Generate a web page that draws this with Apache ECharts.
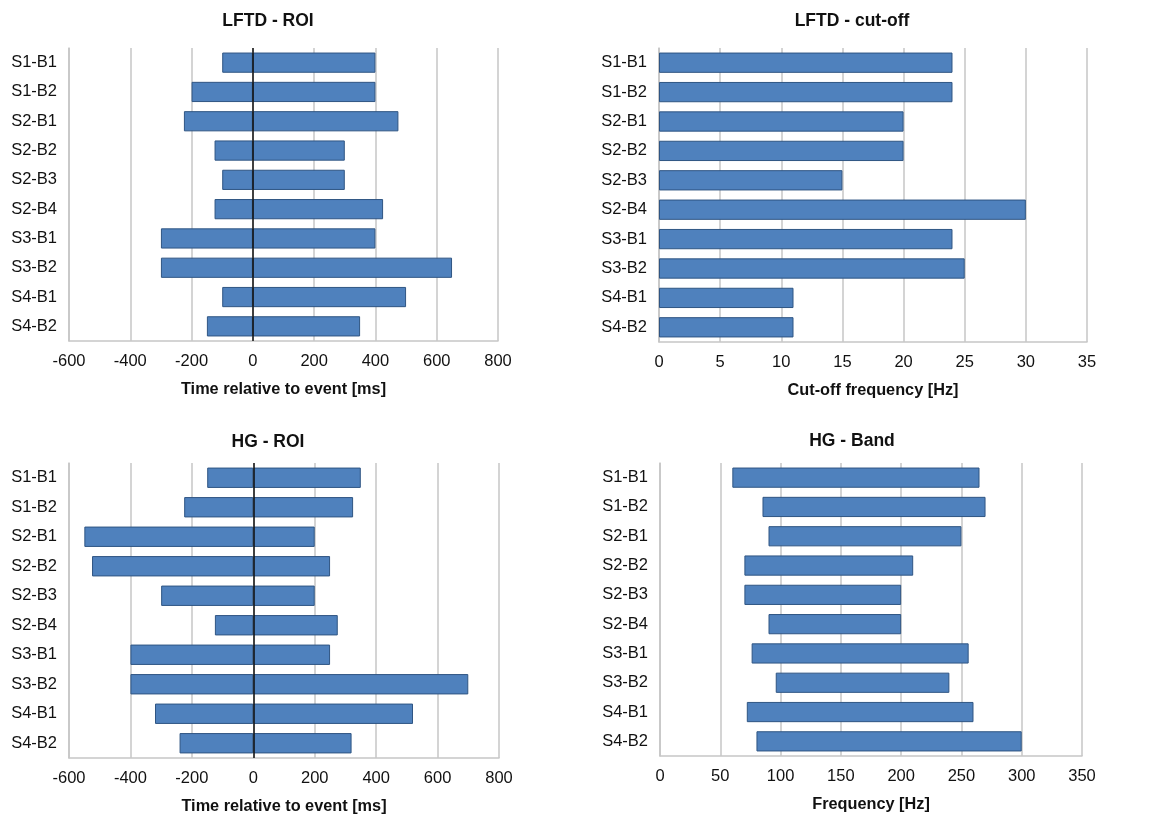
<!DOCTYPE html>
<html>
<head>
<meta charset="utf-8">
<script src="https://cdn.jsdelivr.net/npm/echarts@6/dist/echarts.min.js"></script>
<style>
  html, body { margin: 0; padding: 0; background: #fff; }
  #chart { width: 1164px; height: 820px; }
</style>
</head>
<body>
<div id="chart"></div>
<script>
// categories shared by all four panels
const sessions = ["S1-B1", "S1-B2", "S2-B1", "S2-B2", "S2-B3", "S2-B4", "S3-B1", "S3-B2", "S4-B1", "S4-B2"];

// LFTD - ROI (ms)
const lftdRoiStart = [-100, -200, -225, -125, -100, -125, -300, -300, -100, -150];
const lftdRoiEnd = [400, 400, 475, 300, 300, 425, 400, 650, 500, 350];

// LFTD - cut-off (Hz)
const lftdCutoff = [24, 24, 20, 20, 15, 30, 24, 25, 11, 11];

// HG - ROI (ms)
const hgRoiStart = [-150, -225, -550, -525, -300, -125, -400, -400, -320, -240];
const hgRoiEnd = [350, 325, 200, 250, 200, 275, 250, 700, 520, 320];

// HG - Band (Hz)
const hgBandLow = [60, 85, 90, 70, 70, 90, 76, 96, 72, 80];
const hgBandHigh = [265, 270, 250, 210, 200, 200, 256, 240, 260, 300];

const FONT = "Liberation Sans, Arial, sans-serif";
const barColor = "#4f81bd";
const barBorder = "#2f5583";
const gridGrey = "#c6c6c6";

const chart = echarts.init(document.getElementById("chart"));

const grids = [
  { left: 69, top: 48, width: 429, height: 293 },
  { left: 659, top: 48, width: 428, height: 294 },
  { left: 69, top: 463, width: 430, height: 295 },
  { left: 660, top: 463, width: 422, height: 293 },
];

const titles = [
  { text: "LFTD - ROI", left: 263, top: 7 },
  { text: "LFTD - cut-off", left: 847, top: 7 },
  { text: "HG - ROI", left: 263, top: 428 },
  { text: "HG - Band", left: 847, top: 427 },
].map((t) => ({
  text: t.text,
  left: t.left,
  top: t.top,
  textAlign: "center",
  textStyle: { fontFamily: FONT, fontSize: 17.5, fontWeight: "bold", color: "#111" },
}));

function xAxisFor(idx, min, max, interval, name) {
  return {
    type: "value",
    gridIndex: idx,
    min: min,
    max: max,
    interval: interval,
    name: name,
    nameLocation: "middle",
    nameGap: 41,
    nameTextStyle: { fontFamily: FONT, fontSize: 16.3, fontWeight: "bold", color: "#111" },
    axisLine: { show: true, lineStyle: { color: gridGrey, width: 1.5 } },
    axisTick: { show: false },
    axisLabel: { fontFamily: FONT, fontSize: 16.5, color: "#111", margin: 12 },
    splitLine: { show: true, lineStyle: { color: gridGrey, width: 1.5 } },
  };
}

function yAxisFor(idx) {
  return {
    type: "category",
    gridIndex: idx,
    data: sessions,
    inverse: true,
    axisLine: { show: true, onZero: false, lineStyle: { color: gridGrey, width: 1.5 } },
    axisTick: { show: false },
    axisLabel: { fontFamily: FONT, fontSize: 16.5, color: "#111", margin: 12 },
  };
}

const barBase = {
  type: "bar",
  barCategoryGap: "31%",
  itemStyle: { color: barColor, borderColor: barBorder, borderWidth: 1 },
  silent: true,
};

const zeroLine = {
  silent: true,
  symbol: "none",
  label: { show: false },
  lineStyle: { color: "#111", type: "solid", width: 1.5 },
  data: [{ xAxis: 0 }],
};

const option = {
  animation: false,
  backgroundColor: "#fff",
  title: titles,
  grid: grids,
  xAxis: [
    xAxisFor(0, -600, 800, 200, "Time relative to event [ms]"),
    xAxisFor(1, 0, 35, 5, "Cut-off frequency [Hz]"),
    xAxisFor(2, -600, 800, 200, "Time relative to event [ms]"),
    xAxisFor(3, 0, 350, 50, "Frequency [Hz]"),
  ],
  yAxis: [yAxisFor(0), yAxisFor(1), yAxisFor(2), yAxisFor(3)],
  series: [
    // LFTD - ROI: negative and positive parts stack from zero
    Object.assign({}, barBase, { xAxisIndex: 0, yAxisIndex: 0, stack: "lr", data: lftdRoiStart }),
    Object.assign({}, barBase, { xAxisIndex: 0, yAxisIndex: 0, stack: "lr", data: lftdRoiEnd, markLine: zeroLine, z: 3 }),
    // LFTD - cut-off
    Object.assign({}, barBase, { xAxisIndex: 1, yAxisIndex: 1, data: lftdCutoff }),
    // HG - ROI
    Object.assign({}, barBase, { xAxisIndex: 2, yAxisIndex: 2, stack: "hr", data: hgRoiStart }),
    Object.assign({}, barBase, { xAxisIndex: 2, yAxisIndex: 2, stack: "hr", data: hgRoiEnd, markLine: zeroLine, z: 3 }),
    // HG - Band: invisible base + visible span
    Object.assign({}, barBase, {
      xAxisIndex: 3, yAxisIndex: 3, stack: "hb", data: hgBandLow,
      itemStyle: { color: "transparent", borderWidth: 0 },
    }),
    Object.assign({}, barBase, {
      xAxisIndex: 3, yAxisIndex: 3, stack: "hb",
      data: hgBandHigh.map((v, i) => v - hgBandLow[i]),
    }),
  ],
};

chart.setOption(option);
window.addEventListener("resize", () => chart.resize());
</script>
</body>
</html>
